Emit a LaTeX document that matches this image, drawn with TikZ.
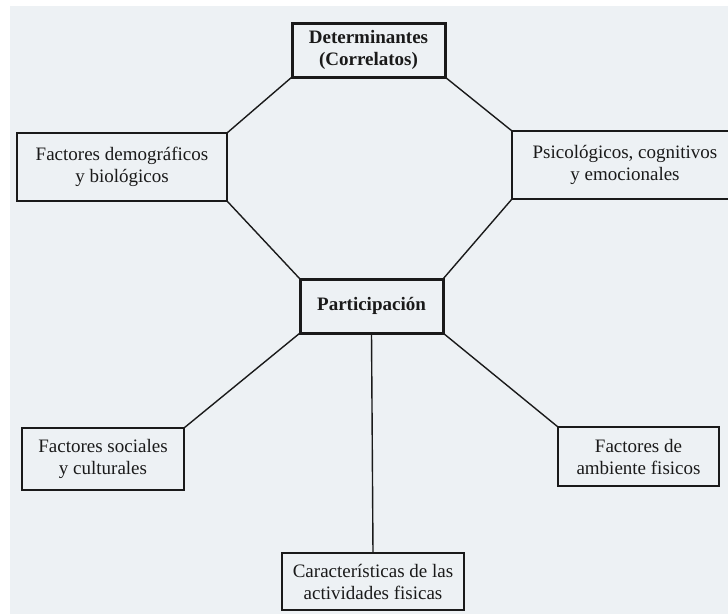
\documentclass[tikz,border=0pt]{standalone}
\usepackage{fontspec}
\setmainfont{Liberation Serif}
\definecolor{bgc}{HTML}{EDF1F4}
\definecolor{ink}{HTML}{1A1A1A}
\tikzset{
  box/.style={draw=ink, line width=1.8pt, inner sep=0pt, outer sep=0pt, align=center,
    text=ink, font=\fontsize{19}{22}\selectfont},
  mainbox/.style={box, line width=3pt, font=\fontsize{19}{22}\selectfont\bfseries},
  link/.style={draw=ink, line width=1.4pt}
}
\begin{document}
\begin{tikzpicture}[x=1pt,y=-1pt]
\useasboundingbox (0,0) rectangle (728,613);
\fill[bgc] (10,6) rectangle (740,620);

\node[mainbox, minimum width=153pt, minimum height=54pt] (det) at (368.5,50) {Determinantes\\(Correlatos)};
\node[box, minimum width=210pt, minimum height=68pt] (demo) at (122,167) {Factores demográficos\\y biológicos};
\node[box, minimum width=226pt, minimum height=68pt] (psi) at (625,165) {Psicológicos, cognitivos\\y emocionales};
\node[mainbox, minimum width=143pt, minimum height=54pt] (part) at (371.5,306) {Participación};
\node[box, minimum width=162pt, minimum height=62pt] (soc) at (103,459) {Factores sociales\\y culturales};
\node[box, minimum width=161pt, minimum height=59pt] (amb) at (638.5,456.5) {Factores de\\ambiente fisicos};
\node[box, minimum width=182pt, minimum height=57pt] (car) at (373,581.5) {Características de las\\actividades fisicas};

\draw[link] (det.south west) -- (demo.north east);
\draw[link] (det.south east) -- (psi.north west);
\draw[link] (demo.south east) -- (part.north west);
\draw[link] (psi.south west) -- (part.north east);
\draw[link] (part.south west) -- (soc.north east);
\draw[link] (part.south east) -- (amb.north west);
\draw[link] (part.south) -- (car.north);
\end{tikzpicture}
\end{document}
